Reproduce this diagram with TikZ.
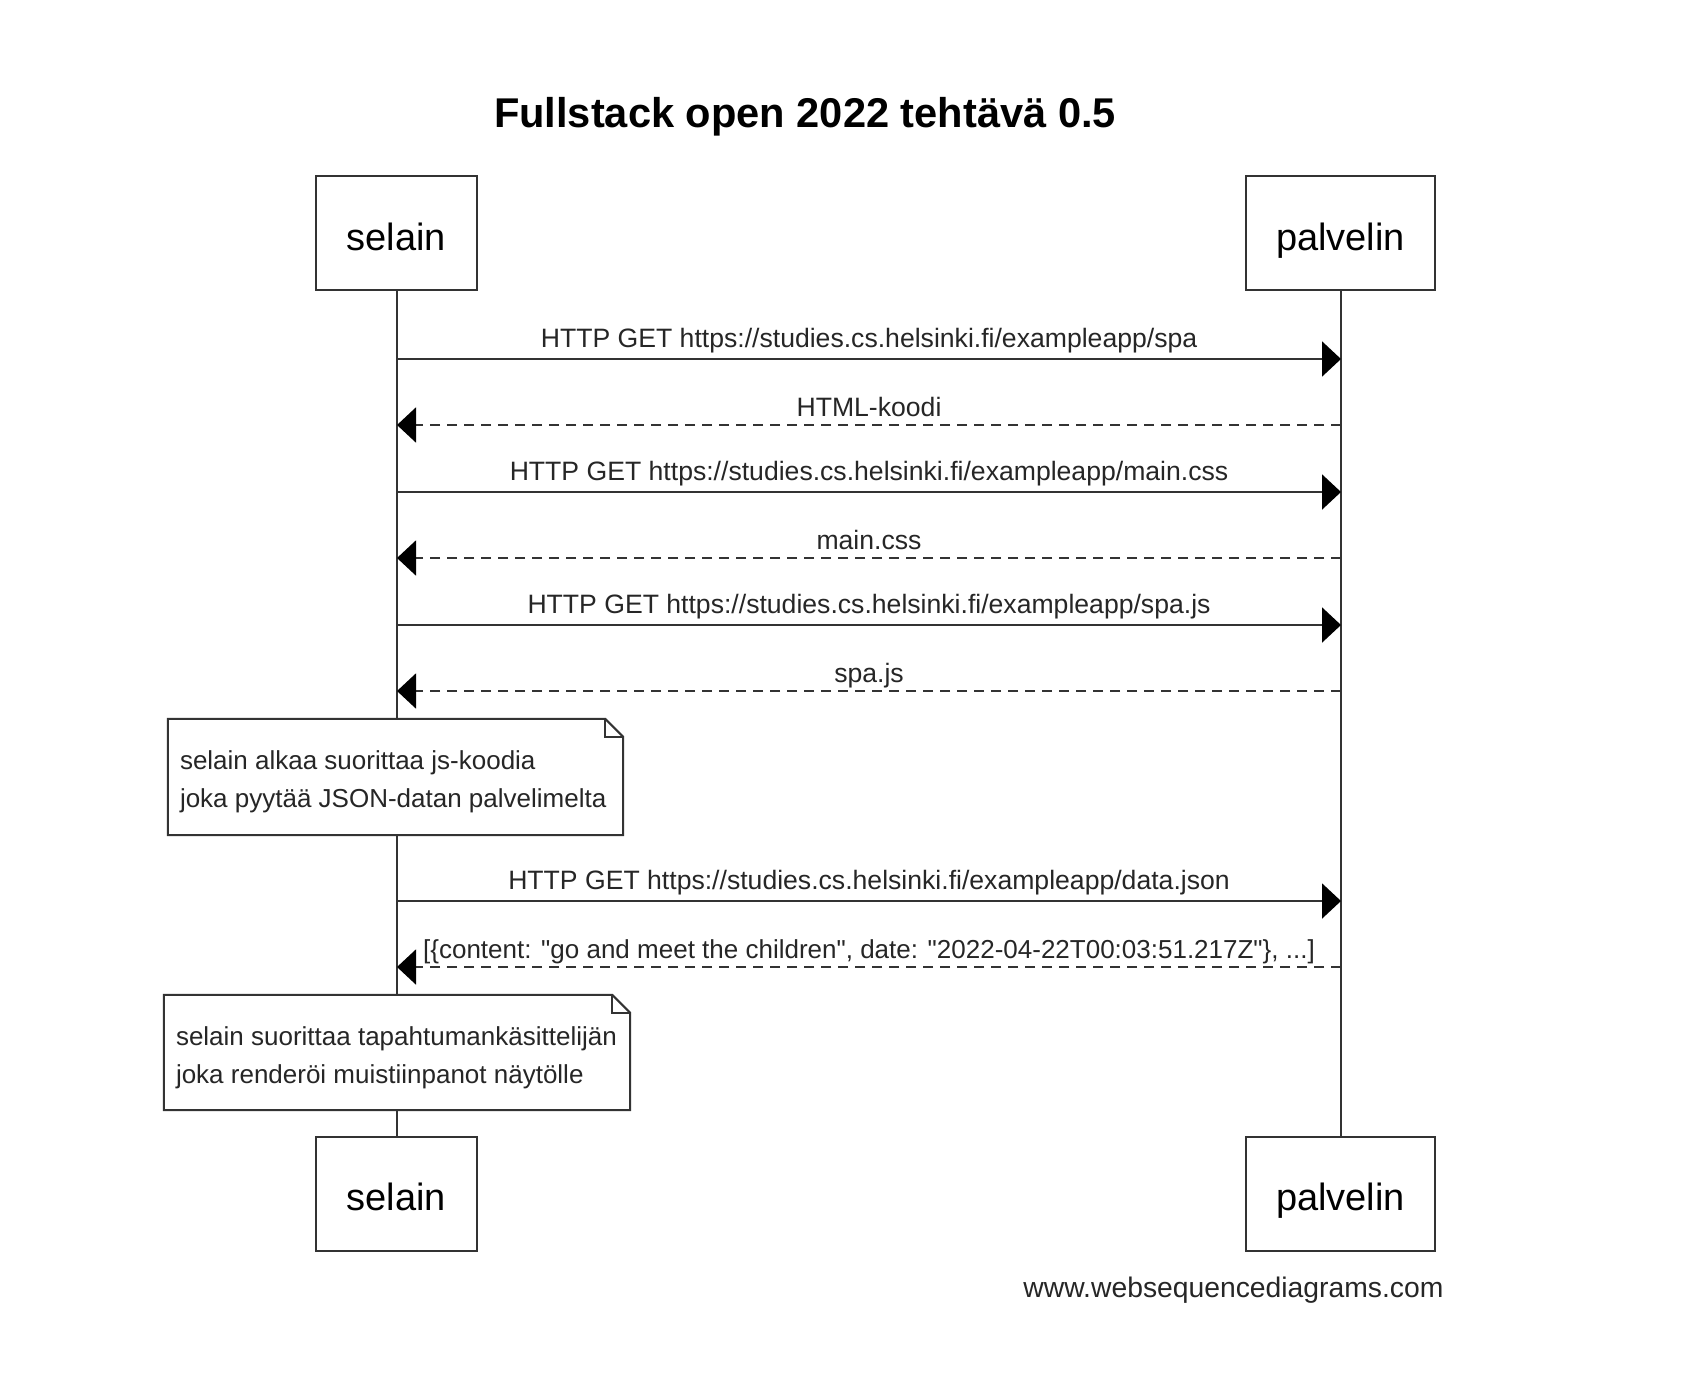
\documentclass[tikz,border=0pt]{standalone}
\usepackage{fontspec}
\setmainfont{Liberation Sans}
\newfontfamily\rawfont{Liberation Sans}
\usetikzlibrary{arrows.meta}

\tikzset{
  actor/.style={draw=black!80, line width=2pt, fill=white, minimum height=114pt,
    text height=34pt, text depth=0pt, inner sep=0pt, font=\fontsize{38}{44}\selectfont},
  life/.style={draw=black!80, line width=2pt},
  req/.style={draw=black!80, line width=2pt, -{Triangle[length=19pt,width=35pt,color=black]}},
  resp/.style={req, dash pattern=on 10pt off 7pt},
  msglbl/.style={anchor=base, font=\fontsize{26.6}{30}\selectfont, text=black!85},
  notebox/.style={draw=black!80, line width=2pt},
  notefill/.style={fill=white, inner sep=0pt},
  notetext/.style={anchor=west, inner sep=0pt, align=left, text=black!85,
    font=\fontsize{26}{38}\selectfont}
}

\begin{document}
\begin{tikzpicture}[x=1pt,y=-1pt]
            \useasboundingbox (0,0) rectangle (1684,1384);
            \node[anchor=base, font=\fontsize{41.6}{48}\selectfont\bfseries] (title) at (805,127) {Fullstack open 2022 tehtävä 0.5};
            %% participants
            \node[actor, minimum width=161pt] (selTop) at (396.5,233) {selain};
            \node[actor, minimum width=189pt] (palTop) at (1340.5,233) {palvelin};
            \node[actor, minimum width=161pt] (selBot) at (396.5,1193.5) {selain};
            \node[actor, minimum width=189pt] (palBot) at (1340.5,1193.5) {palvelin};
            \draw[life] (selTop) -- (selBot);
            \draw[life] (palTop) -- (palBot);
            %% requests
            \foreach \y/\f in {359/spa,492/main.css,625/spa.js,901/data.json}{
            \coordinate (s\y) at (397,\y);
            \coordinate (p\y) at (1341,\y);
            \draw[req] (s\y) -- (p\y) node[midway,msglbl,yshift=12pt]{HTTP GET https://studies.cs.helsinki.fi/exampleapp/\f};
            }
            % responses
            \foreach \y/\t in {425/HTML-koodi,558/main.css,691/spa.js}{
            \coordinate (s\y) at (397,\y);
            \coordinate (p\y) at (1341,\y);
            \draw[resp] (p\y) -- (s\y) node[midway,msglbl,yshift=9pt]{\t};
            }
            \coordinate (s967) at (397,967);
            \coordinate (p967) at (1341,967);
            \draw[resp] (p967) -- (s967) node[midway,msglbl,yshift=9pt,font=\rawfont\fontsize{26}{30}\selectfont]{[\{content: "go and meet the children", date: "2022-04-22T00:03:51.217Z"\}, ...]};
            %% notes
            \node[notefill, minimum width=455pt, minimum height=116pt] (note1) at (395.5,777) {};
            \draw[notebox] (note1.north west) -- ([xshift=-18pt]note1.north east) -- ([yshift=-18pt]note1.north east) -- (note1.south east) -- (note1.south west) -- cycle;
            \draw[notebox] ([xshift=-18pt]note1.north east) |- ([yshift=-18pt]note1.north east);
            \node[notetext] (note1txt) at ([xshift=12pt,yshift=-5pt]note1.west) {selain alkaa suorittaa js-koodia\\joka pyytää JSON-datan palvelimelta};
            \node[notefill, minimum width=466pt, minimum height=115pt] (note2) at (397,1052.5) {};
            \draw[notebox] (note2.north west) -- ([xshift=-18pt]note2.north east) -- ([yshift=-18pt]note2.north east) -- (note2.south east) -- (note2.south west) -- cycle;
            \draw[notebox] ([xshift=-18pt]note2.north east) |- ([yshift=-18pt]note2.north east);
            \node[notetext] (note2txt) at ([xshift=12pt,yshift=-5pt]note2.west) {selain suorittaa tapahtumankäsittelijän\\joka renderöi muistiinpanot näytölle};
            \node[anchor=base east, font=\fontsize{28.3}{32}\selectfont, text=black!85] (credit) at (1447,1297) {www.websequencediagrams.com};
        \end{tikzpicture}
\end{document}
